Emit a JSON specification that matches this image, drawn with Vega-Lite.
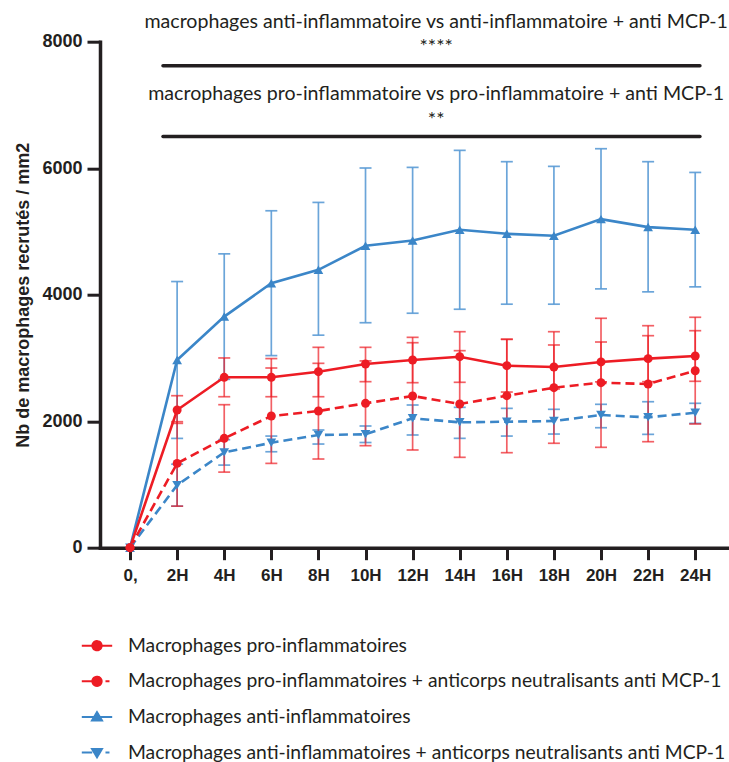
{
  "$schema": "https://vega.github.io/schema/vega-lite/v6.json",
  "width": 627,
  "height": 506,
  "autosize": {"type": "none"},
  "padding": {"left": 100, "top": 41.7, "right": 2, "bottom": 214.3},
  "background": "white",
  "config": {"view": {"stroke": null}},
  "datasets": {
    "series": [
      {"g": "Macrophages anti-inflammatoires", "t": 0, "y": 0, "lo": 0, "hi": 0},
      {"g": "Macrophages anti-inflammatoires", "t": 2, "y": 2968, "lo": 1728, "hi": 4208},
      {"g": "Macrophages anti-inflammatoires", "t": 4, "y": 3654, "lo": 2662, "hi": 4646},
      {"g": "Macrophages anti-inflammatoires", "t": 6, "y": 4182, "lo": 3037, "hi": 5327},
      {"g": "Macrophages anti-inflammatoires", "t": 8, "y": 4393, "lo": 3360, "hi": 5459},
      {"g": "Macrophages anti-inflammatoires", "t": 10, "y": 4773, "lo": 3557, "hi": 6003},
      {"g": "Macrophages anti-inflammatoires", "t": 12, "y": 4857, "lo": 3707, "hi": 6013},
      {"g": "Macrophages anti-inflammatoires", "t": 14, "y": 5026, "lo": 3770, "hi": 6282},
      {"g": "Macrophages anti-inflammatoires", "t": 16, "y": 4963, "lo": 3850, "hi": 6103},
      {"g": "Macrophages anti-inflammatoires", "t": 18, "y": 4931, "lo": 3850, "hi": 6029},
      {"g": "Macrophages anti-inflammatoires", "t": 20, "y": 5195, "lo": 4092, "hi": 6308},
      {"g": "Macrophages anti-inflammatoires", "t": 22, "y": 5069, "lo": 4045, "hi": 6103},
      {"g": "Macrophages anti-inflammatoires", "t": 24, "y": 5026, "lo": 4124, "hi": 5933},
      {"g": "Macrophages anti-inflammatoires + anticorps neutralisants anti MCP-1", "t": 0, "y": 0, "lo": 0, "hi": 0},
      {"g": "Macrophages anti-inflammatoires + anticorps neutralisants anti MCP-1", "t": 2, "y": 989, "lo": 657, "hi": 1320},
      {"g": "Macrophages anti-inflammatoires + anticorps neutralisants anti MCP-1", "t": 4, "y": 1507, "lo": 1306, "hi": 1708},
      {"g": "Macrophages anti-inflammatoires + anticorps neutralisants anti MCP-1", "t": 6, "y": 1659, "lo": 1517, "hi": 1765},
      {"g": "Macrophages anti-inflammatoires + anticorps neutralisants anti MCP-1", "t": 8, "y": 1782, "lo": 1639, "hi": 1861},
      {"g": "Macrophages anti-inflammatoires + anticorps neutralisants anti MCP-1", "t": 10, "y": 1793, "lo": 1663, "hi": 1924},
      {"g": "Macrophages anti-inflammatoires + anticorps neutralisants anti MCP-1", "t": 12, "y": 2046, "lo": 1782, "hi": 2256},
      {"g": "Macrophages anti-inflammatoires + anticorps neutralisants anti MCP-1", "t": 14, "y": 1982, "lo": 1729, "hi": 2219},
      {"g": "Macrophages anti-inflammatoires + anticorps neutralisants anti MCP-1", "t": 16, "y": 1992, "lo": 1765, "hi": 2203},
      {"g": "Macrophages anti-inflammatoires + anticorps neutralisants anti MCP-1", "t": 18, "y": 2003, "lo": 1797, "hi": 2188},
      {"g": "Macrophages anti-inflammatoires + anticorps neutralisants anti MCP-1", "t": 20, "y": 2098, "lo": 1897, "hi": 2267},
      {"g": "Macrophages anti-inflammatoires + anticorps neutralisants anti MCP-1", "t": 22, "y": 2061, "lo": 1792, "hi": 2308},
      {"g": "Macrophages anti-inflammatoires + anticorps neutralisants anti MCP-1", "t": 24, "y": 2134, "lo": 1966, "hi": 2283},
      {"g": "Macrophages pro-inflammatoires", "t": 0, "y": 0, "lo": 0, "hi": 0},
      {"g": "Macrophages pro-inflammatoires", "t": 2, "y": 2177, "lo": 1966, "hi": 2403},
      {"g": "Macrophages pro-inflammatoires", "t": 4, "y": 2694, "lo": 2387, "hi": 3000},
      {"g": "Macrophages pro-inflammatoires", "t": 6, "y": 2694, "lo": 2387, "hi": 2990},
      {"g": "Macrophages pro-inflammatoires", "t": 8, "y": 2783, "lo": 2387, "hi": 3168},
      {"g": "Macrophages pro-inflammatoires", "t": 10, "y": 2904, "lo": 2625, "hi": 3168},
      {"g": "Macrophages pro-inflammatoires", "t": 12, "y": 2968, "lo": 2609, "hi": 3326},
      {"g": "Macrophages pro-inflammatoires", "t": 14, "y": 3020, "lo": 2615, "hi": 3415},
      {"g": "Macrophages pro-inflammatoires", "t": 16, "y": 2878, "lo": 2461, "hi": 3295},
      {"g": "Macrophages pro-inflammatoires", "t": 18, "y": 2857, "lo": 2509, "hi": 3205},
      {"g": "Macrophages pro-inflammatoires", "t": 20, "y": 2937, "lo": 2622, "hi": 3252},
      {"g": "Macrophages pro-inflammatoires", "t": 22, "y": 2989, "lo": 2625, "hi": 3352},
      {"g": "Macrophages pro-inflammatoires", "t": 24, "y": 3031, "lo": 2631, "hi": 3431},
      {"g": "Macrophages pro-inflammatoires + anticorps neutralisants anti MCP-1", "t": 0, "y": 0, "lo": 0, "hi": 0},
      {"g": "Macrophages pro-inflammatoires + anticorps neutralisants anti MCP-1", "t": 2, "y": 1333, "lo": 657, "hi": 1992},
      {"g": "Macrophages pro-inflammatoires + anticorps neutralisants anti MCP-1", "t": 4, "y": 1729, "lo": 1195, "hi": 2261},
      {"g": "Macrophages pro-inflammatoires + anticorps neutralisants anti MCP-1", "t": 6, "y": 2082, "lo": 1333, "hi": 2841},
      {"g": "Macrophages pro-inflammatoires + anticorps neutralisants anti MCP-1", "t": 8, "y": 2161, "lo": 1402, "hi": 2915},
      {"g": "Macrophages pro-inflammatoires + anticorps neutralisants anti MCP-1", "t": 10, "y": 2283, "lo": 1613, "hi": 2953},
      {"g": "Macrophages pro-inflammatoires + anticorps neutralisants anti MCP-1", "t": 12, "y": 2398, "lo": 1545, "hi": 3241},
      {"g": "Macrophages pro-inflammatoires + anticorps neutralisants anti MCP-1", "t": 14, "y": 2272, "lo": 1429, "hi": 3115},
      {"g": "Macrophages pro-inflammatoires + anticorps neutralisants anti MCP-1", "t": 16, "y": 2403, "lo": 1502, "hi": 3295},
      {"g": "Macrophages pro-inflammatoires + anticorps neutralisants anti MCP-1", "t": 18, "y": 2530, "lo": 1651, "hi": 3415},
      {"g": "Macrophages pro-inflammatoires + anticorps neutralisants anti MCP-1", "t": 20, "y": 2609, "lo": 1587, "hi": 3627},
      {"g": "Macrophages pro-inflammatoires + anticorps neutralisants anti MCP-1", "t": 22, "y": 2588, "lo": 1676, "hi": 3510},
      {"g": "Macrophages pro-inflammatoires + anticorps neutralisants anti MCP-1", "t": 24, "y": 2798, "lo": 1956, "hi": 3643}
    ],
    "annot": [
      {"x": 1.4, "x2": 24.2, "y": 7620},
      {"x": 1.4, "x2": 24.2, "y": 6500}
    ],
    "labels": [
      {"t": 13, "y": 8316, "txt": "macrophages anti-inflammatoire vs anti-inflammatoire + anti MCP-1"},
      {"t": 13, "y": 7920, "txt": "****"},
      {"t": 13, "y": 7175, "txt": "macrophages pro-inflammatoire vs pro-inflammatoire + anti MCP-1"},
      {"t": 13, "y": 6762, "txt": "**"}
    ]
  },
  "layer": [
    {
      "data": {"name": "annot"},
      "mark": {"type": "rule", "color": "#231f20", "strokeWidth": 3.5, "strokeCap": "round"},
      "encoding": {
        "x": {
          "field": "x", "type": "quantitative",
          "scale": {"domain": [-1.275, 25.35], "nice": false, "zero": false},
          "axis": {
            "values": [0, 2, 4, 6, 8, 10, 12, 14, 16, 18, 20, 22, 24],
            "labelExpr": "datum.value == 0 ? '0,' : datum.value + 'H'",
            "title": null,
            "grid": false,
            "labelFont": "Liberation Sans", "labelFontSize": 17, "labelFontWeight": "bold", "labelColor": "#231f20",
            "labelPadding": 8, "labelFlush": false, "labelOverlap": false,
            "tickSize": 12, "tickWidth": 3, "tickColor": "#231f20",
            "domainColor": "#231f20", "domainWidth": 3.5, "domainCap": "square"
          }
        },
        "x2": {"field": "x2"},
        "y": {
          "field": "y", "type": "quantitative",
          "scale": {"domain": [0, 8000], "nice": false},
          "axis": {
            "values": [0, 2000, 4000, 6000, 8000],
            "format": "d",
            "title": "Nb de macrophages recrutés / mm2",
            "titleFont": "Liberation Sans", "titleFontSize": 18, "titleFontWeight": "bold", "titleColor": "#231f20",
            "titlePadding": 9,
            "grid": false,
            "labelFont": "Liberation Sans", "labelFontSize": 18, "labelFontWeight": "bold", "labelColor": "#231f20",
            "labelPadding": 5, "labelFlush": false, "labelOverlap": false,
            "tickSize": 13, "tickWidth": 3, "tickColor": "#231f20",
            "domainColor": "#231f20", "domainWidth": 3.5, "domainCap": "square"
          }
        }
      }
    },
    {
      "data": {"name": "labels"},
      "mark": {"type": "text", "font": "Lato", "fontSize": 19.6, "color": "#231f20", "align": "center", "baseline": "middle"},
      "encoding": {
        "x": {"field": "t", "type": "quantitative"},
        "y": {"field": "y", "type": "quantitative"},
        "text": {"field": "txt"}
      }
    },
    {
      "data": {"name": "series"},
      "transform": [
        {"filter": {"field": "t", "gt": 0}},
        {"filter": {"field": "g", "oneOf": ["Macrophages anti-inflammatoires", "Macrophages anti-inflammatoires + anticorps neutralisants anti MCP-1"]}}
      ],
      "mark": {"type": "rule", "strokeWidth": 1.7, "color": "#5b9bd5", "opacity": 0.9},
      "encoding": {
        "x": {"field": "t", "type": "quantitative"},
        "y": {"field": "lo", "type": "quantitative"},
        "y2": {"field": "hi"}
      }
    },
    {
      "data": {"name": "series"},
      "transform": [
        {"filter": {"field": "t", "gt": 0}},
        {"filter": {"field": "g", "oneOf": ["Macrophages anti-inflammatoires", "Macrophages anti-inflammatoires + anticorps neutralisants anti MCP-1"]}},
        {"fold": ["lo", "hi"], "as": ["k", "v"]}
      ],
      "mark": {"type": "tick", "orient": "horizontal", "size": 12, "thickness": 1.7, "color": "#5b9bd5", "opacity": 0.9},
      "encoding": {
        "x": {"field": "t", "type": "quantitative"},
        "y": {"field": "v", "type": "quantitative"}
      }
    },
    {
      "data": {"name": "series"},
      "transform": [
        {"filter": {"field": "t", "gt": 0}},
        {"filter": {"field": "g", "oneOf": ["Macrophages pro-inflammatoires", "Macrophages pro-inflammatoires + anticorps neutralisants anti MCP-1"]}}
      ],
      "mark": {"type": "rule", "strokeWidth": 1.7, "color": "#ed1c24", "opacity": 0.7},
      "encoding": {
        "x": {"field": "t", "type": "quantitative"},
        "y": {"field": "lo", "type": "quantitative"},
        "y2": {"field": "hi"}
      }
    },
    {
      "data": {"name": "series"},
      "transform": [
        {"filter": {"field": "t", "gt": 0}},
        {"filter": {"field": "g", "oneOf": ["Macrophages pro-inflammatoires", "Macrophages pro-inflammatoires + anticorps neutralisants anti MCP-1"]}},
        {"fold": ["lo", "hi"], "as": ["k", "v"]}
      ],
      "mark": {"type": "tick", "orient": "horizontal", "size": 12, "thickness": 1.7, "color": "#ed1c24", "opacity": 0.7},
      "encoding": {
        "x": {"field": "t", "type": "quantitative"},
        "y": {"field": "v", "type": "quantitative"}
      }
    },
    {
      "data": {"name": "series"},
      "transform": [{"filter": {"field": "g", "oneOf": ["Macrophages anti-inflammatoires", "Macrophages pro-inflammatoires"]}}],
      "mark": {"type": "line", "strokeWidth": 2.6},
      "encoding": {
        "x": {"field": "t", "type": "quantitative"},
        "y": {"field": "y", "type": "quantitative"},
        "color": {
          "field": "g", "type": "nominal",
          "scale": {
            "domain": [
              "Macrophages pro-inflammatoires",
              "Macrophages pro-inflammatoires + anticorps neutralisants anti MCP-1",
              "Macrophages anti-inflammatoires",
              "Macrophages anti-inflammatoires + anticorps neutralisants anti MCP-1"
            ],
            "range": ["#ed1c24", "#ed1c24", "#3b86c8", "#3b86c8"]
          },
          "legend": {
            "title": null,
            "orient": "none",
            "legendX": -20,
            "legendY": 587,
            "padding": 0,
            "symbolSize": 1024,
            "symbolStrokeWidth": 2,
            "labelFont": "Lato",
            "labelFontSize": 19.3,
            "labelColor": "#231f20",
            "labelOffset": 14,
            "labelLimit": 800,
            "rowPadding": 7.6,
            "encode": {
              "symbols": {
                "update": {
                  "shape": {"signal": "datum.value == 'Macrophages pro-inflammatoires' ? 'M-0.95,0H0.95M0.29,0A0.29,0.29 0 1 1 -0.29,0A0.29,0.29 0 1 1 0.29,0Z' : datum.value == 'Macrophages pro-inflammatoires + anticorps neutralisants anti MCP-1' ? 'M-0.95,0H-0.3M0.53,0H0.78M0.29,0A0.29,0.29 0 1 1 -0.29,0A0.29,0.29 0 1 1 0.29,0Z' : datum.value == 'Macrophages anti-inflammatoires' ? 'M-0.95,0H0.95M0,-0.3L0.31,0.22L-0.31,0.22Z' : 'M-0.95,0H-0.3M0.53,0H0.78M0,0.3L0.31,-0.22L-0.31,-0.22Z'"},
                  "fill": {"scale": "color", "field": "value"},
                  "stroke": {"scale": "color", "field": "value"},
                  "strokeWidth": {"value": 2},
                  "size": {"value": 1024},
                  "opacity": {"value": 1},
                  "fillOpacity": {"value": 1},
                  "strokeOpacity": {"value": 1},
                  "strokeDash": {"value": [1, 0]}
                }
              }
            }
          }
        }
      }
    },
    {
      "data": {"name": "series"},
      "transform": [{"filter": {"field": "g", "oneOf": ["Macrophages anti-inflammatoires + anticorps neutralisants anti MCP-1", "Macrophages pro-inflammatoires + anticorps neutralisants anti MCP-1"]}}],
      "mark": {"type": "line", "strokeWidth": 2.6, "strokeDash": [9, 5]},
      "encoding": {
        "x": {"field": "t", "type": "quantitative"},
        "y": {"field": "y", "type": "quantitative"},
        "color": {"field": "g", "type": "nominal"}
      }
    },
    {
      "data": {"name": "series"},
      "transform": [{"filter": {"field": "g", "equal": "Macrophages anti-inflammatoires"}}],
      "mark": {"type": "point", "filled": true, "opacity": 1, "size": 95, "shape": "triangle-up"},
      "encoding": {
        "x": {"field": "t", "type": "quantitative"},
        "y": {"field": "y", "type": "quantitative"},
        "color": {"field": "g", "type": "nominal"}
      }
    },
    {
      "data": {"name": "series"},
      "transform": [{"filter": {"field": "g", "equal": "Macrophages anti-inflammatoires + anticorps neutralisants anti MCP-1"}}],
      "mark": {"type": "point", "filled": true, "opacity": 1, "size": 95, "shape": "triangle-down"},
      "encoding": {
        "x": {"field": "t", "type": "quantitative"},
        "y": {"field": "y", "type": "quantitative"},
        "color": {"field": "g", "type": "nominal"}
      }
    },
    {
      "data": {"name": "series"},
      "transform": [{"filter": {"field": "g", "oneOf": ["Macrophages pro-inflammatoires", "Macrophages pro-inflammatoires + anticorps neutralisants anti MCP-1"]}}],
      "mark": {"type": "point", "filled": true, "opacity": 1, "size": 80, "shape": "circle"},
      "encoding": {
        "x": {"field": "t", "type": "quantitative"},
        "y": {"field": "y", "type": "quantitative"},
        "color": {"field": "g", "type": "nominal"}
      }
    }
  ]
}
